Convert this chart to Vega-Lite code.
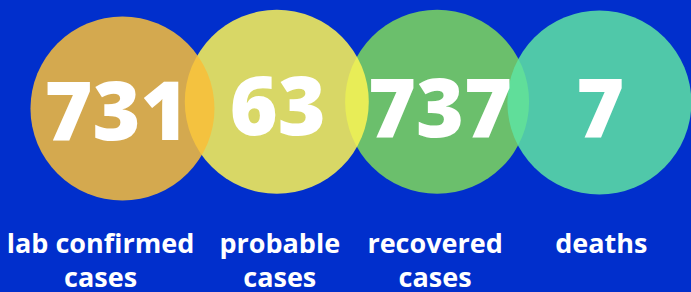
{
  "$schema": "https://vega.github.io/schema/vega-lite/v6.json",
  "width": 691,
  "height": 292,
  "autosize": {"type": "fit", "contains": "padding"},
  "padding": 0,
  "background": "#012fcc",
  "config": {"view": {"stroke": null}},
  "data": {
    "values": [
      {"label": "lab confirmed\ncases", "key": "lab", "value": "731", "z": 3, "cx": 123, "cy": 108.5, "tx": 117, "ny": 140, "lx": 101, "ly": 253},
      {"label": "probable\ncases", "key": "probable", "value": "63", "z": 2, "cx": 278, "cy": 101.8, "tx": 279, "ny": 135, "lx": 281, "ly": 253},
      {"label": "recovered\ncases", "key": "recovered", "value": "737", "z": 1, "cx": 439, "cy": 101.8, "tx": 442, "ny": 137, "lx": 437, "ly": 253},
      {"label": "deaths", "key": "deaths", "value": "7", "z": 4, "cx": 602, "cy": 102.5, "tx": 603, "ny": 137, "lx": 604, "ly": 253}
    ]
  },
  "layer": [
    {
      "mark": {"type": "circle", "opacity": 0.85, "size": 33856, "strokeWidth": 0},
      "encoding": {
        "x": {"field": "cx", "type": "quantitative", "scale": {"domain": [0, 691], "nice": false, "zero": false}, "axis": null},
        "y": {"field": "cy", "type": "quantitative", "scale": {"domain": [0, 292], "nice": false, "zero": false, "reverse": true}, "axis": null},
        "color": {"field": "key", "type": "nominal", "scale": {"domain": ["lab", "probable", "recovered", "deaths"], "range": ["#f9be38", "#fef454", "#7ed85a", "#5ee3a2"]}, "legend": null},
        "order": {"field": "z", "type": "quantitative"}
      }
    },
    {
      "mark": {"type": "text", "font": "Open Sans", "fontSize": 82, "fontWeight": 800, "color": "#ffffff", "align": "center", "baseline": "alphabetic"},
      "encoding": {
        "x": {"field": "tx", "type": "quantitative"},
        "y": {"field": "ny", "type": "quantitative"},
        "text": {"field": "value", "type": "nominal"}
      }
    },
    {
      "mark": {"type": "text", "font": "Open Sans", "fontSize": 27, "fontWeight": "bold", "color": "#ffffff", "align": "center", "baseline": "alphabetic", "lineBreak": "\n", "lineHeight": 34},
      "encoding": {
        "x": {"field": "lx", "type": "quantitative"},
        "y": {"field": "ly", "type": "quantitative"},
        "text": {"field": "label", "type": "nominal"}
      }
    }
  ]
}
